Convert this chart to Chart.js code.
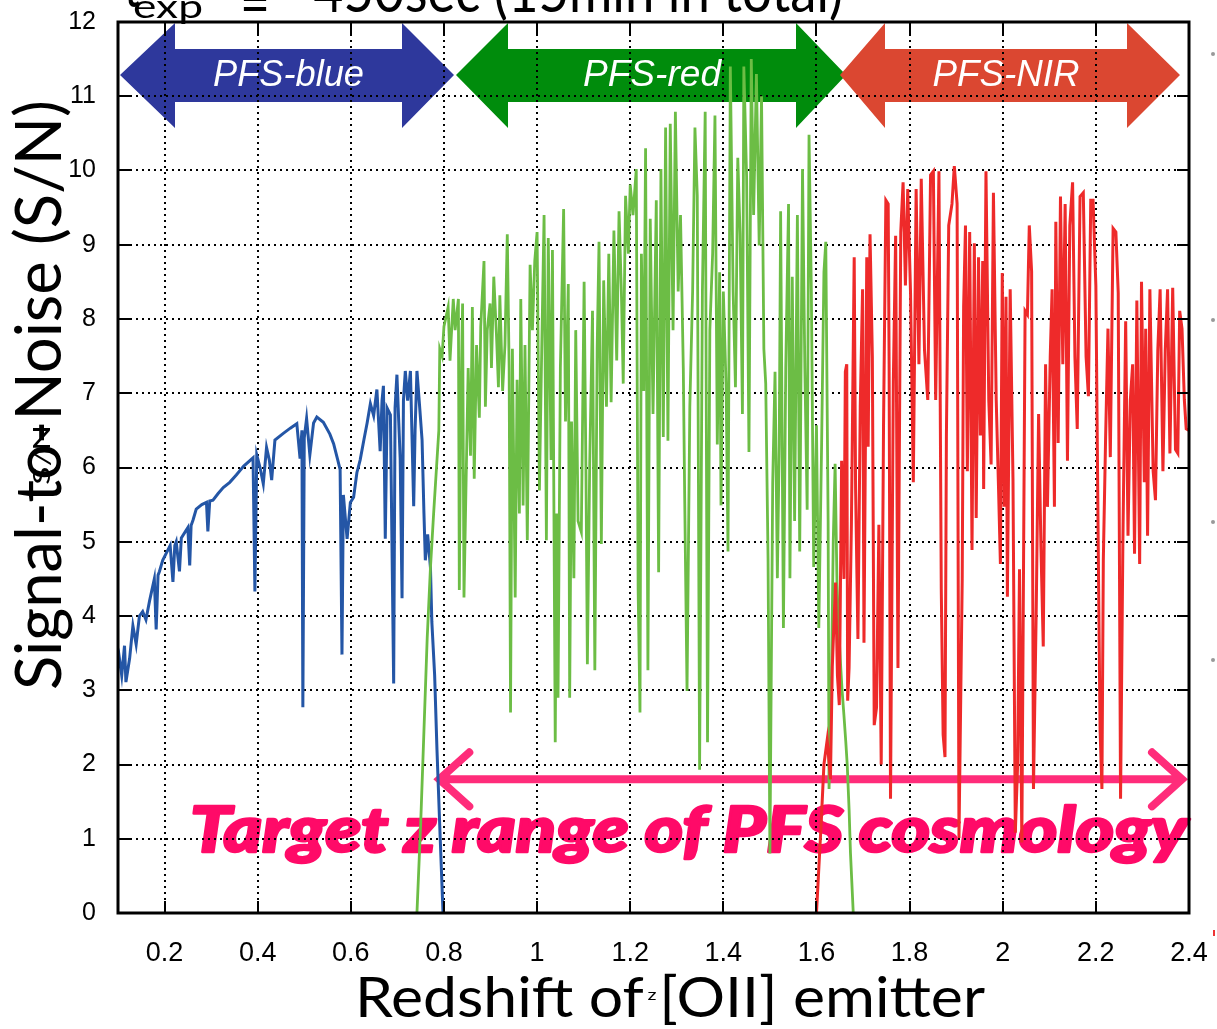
<!DOCTYPE html>
<html lang="en">
<head>
  <meta charset="UTF-8">
  <title>PFS S/N vs redshift</title>
  <style>
    body { margin: 0; background: #fff; }
    #snChart { display: block; }
  </style>
</head>
<body>
  <canvas id="snChart" width="1217" height="1029"></canvas>

  <script src="https://cdn.jsdelivr.net/npm/chart.js"></script>
  <script>
    // ---- data ----
    const xTicks = [0.2, 0.4, 0.6, 0.8, 1, 1.2, 1.4, 1.6, 1.8, 2, 2.2, 2.4];
    const yTicks = [0, 1, 2, 3, 4, 5, 6, 7, 8, 9, 10, 11, 12];

    const blueZ = [0.100, 0.103, 0.108, 0.114, 0.117, 0.125, 0.132, 0.139, 0.146, 0.153, 0.160, 0.168, 0.178, 0.182, 0.186, 0.189, 0.196, 0.204, 0.212, 0.218, 0.222, 0.225, 0.232, 0.236, 0.250, 0.254, 0.257, 0.261, 0.268, 0.280, 0.290, 0.293, 0.297, 0.304, 0.315, 0.326, 0.340, 0.354, 0.370, 0.390, 0.394, 0.398, 0.405, 0.412, 0.419, 0.425, 0.430, 0.437, 0.455, 0.470, 0.484, 0.491, 0.495, 0.497, 0.500, 0.505, 0.512, 0.520, 0.527, 0.541, 0.555, 0.563, 0.572, 0.577, 0.581, 0.584, 0.592, 0.599, 0.606, 0.613, 0.620, 0.628, 0.635, 0.642, 0.649, 0.656, 0.663, 0.667, 0.670, 0.674, 0.678, 0.685, 0.692, 0.695, 0.699, 0.703, 0.706, 0.710, 0.713, 0.717, 0.722, 0.728, 0.735, 0.738, 0.742, 0.748, 0.753, 0.757, 0.760, 0.765, 0.771, 0.774, 0.780, 0.785, 0.792, 0.798];
    const blueSN = [3.30, 3.43, 3.20, 3.60, 3.11, 3.43, 3.87, 3.62, 4.00, 4.06, 3.95, 4.21, 4.50, 3.82, 4.55, 4.60, 4.75, 4.85, 4.95, 4.46, 4.95, 5.00, 4.60, 5.05, 5.19, 4.68, 5.22, 5.29, 5.44, 5.50, 5.53, 5.14, 5.55, 5.56, 5.65, 5.73, 5.80, 5.90, 6.02, 6.13, 4.33, 6.17, 6.00, 5.78, 6.27, 6.10, 5.83, 6.37, 6.46, 6.53, 6.59, 6.12, 6.50, 2.77, 6.40, 6.66, 6.17, 6.60, 6.68, 6.61, 6.45, 6.32, 6.10, 5.97, 3.48, 5.63, 5.04, 5.53, 5.60, 5.93, 6.10, 6.37, 6.60, 6.86, 6.70, 7.05, 6.22, 6.90, 7.10, 5.04, 6.80, 6.71, 3.09, 6.80, 7.25, 6.60, 6.12, 4.24, 6.90, 7.30, 6.90, 7.30, 5.48, 6.50, 7.30, 6.80, 6.37, 5.39, 4.75, 5.10, 4.65, 3.92, 3.20, 2.20, 1.00, 0.00];

    const greenZ = [0.742, 0.750, 0.757, 0.764, 0.771, 0.778, 0.784, 0.789, 0.791, 0.796, 0.800, 0.809, 0.813, 0.820, 0.824, 0.831, 0.833, 0.836, 0.840, 0.843, 0.849, 0.852, 0.857, 0.861, 0.865, 0.870, 0.876, 0.879, 0.886, 0.889, 0.893, 0.899, 0.902, 0.907, 0.913, 0.917, 0.920, 0.926, 0.931, 0.936, 0.940, 0.943, 0.947, 0.953, 0.957, 0.962, 0.965, 0.970, 0.974, 0.979, 0.985, 0.990, 0.995, 1.000, 1.005, 1.010, 1.015, 1.020, 1.024, 1.030, 1.033, 1.039, 1.042, 1.045, 1.050, 1.057, 1.061, 1.067, 1.070, 1.074, 1.079, 1.083, 1.088, 1.095, 1.101, 1.105, 1.108, 1.113, 1.119, 1.124, 1.129, 1.133, 1.138, 1.143, 1.149, 1.154, 1.159, 1.165, 1.171, 1.176, 1.181, 1.185, 1.190, 1.196, 1.200, 1.206, 1.213, 1.217, 1.221, 1.224, 1.229, 1.233, 1.238, 1.243, 1.249, 1.256, 1.261, 1.266, 1.271, 1.276, 1.281, 1.286, 1.292, 1.297, 1.303, 1.308, 1.314, 1.317, 1.322, 1.328, 1.334, 1.339, 1.344, 1.349, 1.355, 1.361, 1.366, 1.371, 1.377, 1.382, 1.387, 1.392, 1.395, 1.400, 1.406, 1.410, 1.415, 1.421, 1.426, 1.431, 1.436, 1.441, 1.444, 1.450, 1.455, 1.460, 1.465, 1.471, 1.477, 1.482, 1.487, 1.491, 1.496, 1.500, 1.506, 1.511, 1.516, 1.520, 1.523, 1.529, 1.534, 1.540, 1.543, 1.548, 1.553, 1.559, 1.564, 1.570, 1.575, 1.580, 1.584, 1.589, 1.594, 1.600, 1.605, 1.611, 1.616, 1.620, 1.625, 1.627, 1.632, 1.636, 1.640, 1.644, 1.648, 1.652, 1.655, 1.659, 1.663, 1.666, 1.670, 1.673, 1.679];
    const greenSN = [0.00, 1.20, 2.45, 3.70, 4.65, 5.40, 6.00, 6.50, 7.60, 7.50, 7.90, 8.16, 7.44, 8.27, 7.85, 8.27, 4.35, 6.72, 8.21, 4.25, 6.31, 7.34, 6.16, 8.16, 5.85, 7.65, 6.67, 7.90, 8.78, 6.82, 7.85, 8.21, 7.34, 8.57, 7.75, 7.08, 8.32, 7.03, 7.65, 9.14, 7.34, 2.70, 7.60, 4.25, 7.18, 5.38, 8.27, 5.49, 7.65, 5.02, 8.73, 7.85, 8.78, 9.17, 5.69, 7.60, 9.40, 5.02, 9.09, 6.10, 8.93, 2.30, 5.38, 2.90, 7.34, 9.48, 6.62, 8.47, 2.90, 6.62, 4.51, 7.85, 5.28, 5.13, 8.50, 5.90, 3.35, 6.05, 8.11, 3.27, 7.60, 9.04, 4.97, 8.52, 6.82, 8.88, 6.88, 9.19, 7.44, 9.45, 8.37, 7.13, 9.66, 8.88, 9.81, 9.40, 10.02, 4.35, 2.70, 8.88, 7.03, 10.30, 3.27, 9.35, 6.72, 9.60, 4.59, 10.02, 6.41, 10.58, 6.36, 10.63, 7.85, 10.79, 8.37, 9.40, 7.34, 5.59, 2.99, 6.82, 8.37, 10.58, 9.66, 1.93, 8.37, 10.79, 2.30, 7.85, 8.88, 10.74, 6.31, 8.63, 5.49, 8.37, 7.08, 4.87, 11.40, 8.37, 7.08, 10.17, 9.14, 6.72, 11.40, 9.91, 6.21, 11.50, 9.40, 11.30, 8.99, 11.00, 7.60, 7.13, 4.77, 0.80, 5.80, 7.29, 4.51, 6.31, 9.45, 3.84, 7.34, 9.55, 4.51, 8.57, 5.28, 9.40, 4.87, 10.02, 7.34, 5.43, 10.48, 8.37, 4.66, 6.57, 3.84, 6.31, 8.63, 9.04, 5.28, 1.67, 3.07, 5.00, 6.05, 4.45, 3.80, 3.32, 3.00, 2.66, 2.30, 2.00, 1.40, 0.81, 0.00];

    const redZ = [1.600, 1.610, 1.616, 1.623, 1.630, 1.634, 1.641, 1.645, 1.649, 1.654, 1.659, 1.662, 1.665, 1.667, 1.670, 1.675, 1.681, 1.684, 1.689, 1.694, 1.699, 1.702, 1.708, 1.711, 1.715, 1.720, 1.724, 1.729, 1.734, 1.739, 1.744, 1.749, 1.754, 1.756, 1.759, 1.765, 1.770, 1.775, 1.781, 1.786, 1.791, 1.796, 1.802, 1.808, 1.814, 1.820, 1.825, 1.832, 1.839, 1.845, 1.851, 1.856, 1.863, 1.868, 1.872, 1.876, 1.879, 1.884, 1.891, 1.896, 1.902, 1.906, 1.913, 1.916, 1.920, 1.924, 1.929, 1.934, 1.939, 1.943, 1.948, 1.952, 1.957, 1.959, 1.964, 1.970, 1.975, 1.980, 1.986, 1.991, 1.995, 1.999, 2.003, 2.007, 2.010, 2.016, 2.022, 2.027, 2.032, 2.036, 2.041, 2.048, 2.053, 2.057, 2.062, 2.066, 2.072, 2.077, 2.082, 2.087, 2.092, 2.096, 2.102, 2.106, 2.111, 2.114, 2.119, 2.124, 2.129, 2.134, 2.139, 2.144, 2.150, 2.155, 2.160, 2.166, 2.173, 2.179, 2.184, 2.189, 2.194, 2.200, 2.205, 2.209, 2.213, 2.216, 2.221, 2.226, 2.231, 2.237, 2.243, 2.248, 2.253, 2.258, 2.264, 2.269, 2.274, 2.279, 2.283, 2.288, 2.294, 2.298, 2.304, 2.307, 2.311, 2.316, 2.323, 2.328, 2.333, 2.338, 2.344, 2.349, 2.354, 2.359, 2.365, 2.371, 2.376, 2.380, 2.385, 2.390, 2.394, 2.400];
    const redSN = [0.00, 1.20, 2.00, 2.33, 1.80, 3.32, 4.45, 3.20, 2.80, 6.09, 4.50, 7.29, 7.39, 2.86, 3.30, 5.23, 8.83, 5.71, 3.69, 6.81, 8.40, 3.64, 8.83, 6.28, 9.14, 7.49, 2.53, 2.77, 5.23, 2.00, 6.57, 9.60, 9.55, 7.39, 1.54, 7.15, 9.12, 3.30, 9.17, 9.84, 8.45, 9.75, 8.35, 5.80, 9.75, 7.39, 9.89, 7.58, 6.91, 9.94, 9.99, 6.91, 9.99, 4.36, 2.40, 2.10, 6.43, 9.26, 9.55, 10.06, 9.55, 1.01, 4.50, 8.16, 9.26, 5.95, 9.17, 4.89, 9.02, 5.32, 8.83, 6.43, 8.78, 5.71, 9.99, 6.91, 6.04, 9.70, 6.91, 5.71, 4.70, 8.62, 5.47, 8.30, 4.26, 8.40, 5.85, 1.08, 2.00, 4.63, 0.95, 8.11, 8.06, 9.26, 8.64, 1.67, 4.12, 6.72, 4.94, 3.59, 7.39, 5.47, 7.49, 8.40, 5.47, 9.31, 6.33, 9.65, 7.39, 9.55, 6.09, 9.26, 9.84, 7.49, 6.52, 9.65, 9.70, 7.49, 6.96, 9.60, 9.60, 8.45, 4.99, 2.47, 1.67, 4.75, 6.43, 7.87, 6.14, 9.22, 9.17, 8.35, 1.54, 4.99, 7.97, 5.08, 6.91, 7.39, 4.84, 8.25, 4.70, 8.50, 5.80, 7.87, 5.08, 8.40, 5.95, 5.56, 7.58, 8.40, 5.95, 7.58, 8.40, 6.19, 8.42, 6.24, 6.19, 8.11, 7.87, 6.91, 6.52, 6.50];

    // ---- small drawing helpers ----
    function fitText(ctx, text, x, y, width, font, align, stroke) {
      ctx.save();
      ctx.font = font;
      const w = ctx.measureText(text).width;
      ctx.translate(x, y);
      ctx.scale(width / w, 1);
      ctx.textAlign = align || 'center';
      ctx.fillText(text, 0, 0);
      if (stroke) {
        ctx.lineWidth = stroke;
        ctx.lineJoin = 'round';
        ctx.strokeStyle = ctx.fillStyle;
        ctx.strokeText(text, 0, 0);
      }
      ctx.restore();
    }

    function bandArrow(ctx, x0, x1, x2, x3, color, label, labelW) {
      const top = 23, sTop = 49, sBot = 102, bot = 128, mid = 75;
      ctx.save();
      ctx.fillStyle = color;
      ctx.beginPath();
      ctx.moveTo(x0, mid);
      ctx.lineTo(x1, top); ctx.lineTo(x1, sTop); ctx.lineTo(x2, sTop); ctx.lineTo(x2, top);
      ctx.lineTo(x3, mid);
      ctx.lineTo(x2, bot); ctx.lineTo(x2, sBot); ctx.lineTo(x1, sBot); ctx.lineTo(x1, bot);
      ctx.closePath();
      ctx.fill();
      ctx.fillStyle = '#fff';
      fitText(ctx, label, (x1 + x2) / 2, 86, labelW, 'italic 37px "Liberation Sans", Arial');
      ctx.restore();
    }

    // background: range arrows, cosmology text, dotted grid, pink arrow
    const underlay = {
      id: 'underlay',
      beforeDatasetsDraw(chart) {
        const { ctx, chartArea: a } = chart;
        const xs = chart.scales.x, ys = chart.scales.y;

        bandArrow(ctx, 120, 175, 402, 454, '#2e389c', 'PFS-blue', 151);
        bandArrow(ctx, 456, 508, 796, 846, '#008c0c', 'PFS-red', 138);
        bandArrow(ctx, 840, 885, 1127, 1180, '#db4731', 'PFS-NIR', 147);

        ctx.save();
        ctx.fillStyle = '#ff0a68';
        fitText(ctx, 'Target z range of PFS cosmology', 190, 852, 998, 'italic 900 62px "Lato Black", Lato, "Open Sans", sans-serif', 'left', 2.5);
        ctx.restore();

        // dotted grid
        ctx.save();
        ctx.strokeStyle = '#000';
        ctx.lineWidth = 2;
        ctx.setLineDash([2, 4]);
        yTicks.forEach(v => {
          if (v === 0 || v === 12) return;
          const y = Math.round(ys.getPixelForValue(v));
          ctx.beginPath(); ctx.moveTo(a.left, y); ctx.lineTo(a.right, y); ctx.stroke();
        });
        xTicks.forEach(v => {
          if (v >= 2.4) return;
          const x = Math.round(xs.getPixelForValue(v));
          ctx.beginPath(); ctx.moveTo(x, a.top); ctx.lineTo(x, a.bottom); ctx.stroke();
        });
        ctx.restore();

        // target range arrow
        const yA = ys.getPixelForValue(1.8);
        const xa = xs.getPixelForValue(0.79), xb = xs.getPixelForValue(2.385);
        ctx.save();
        ctx.strokeStyle = '#ff2c7a';
        ctx.lineWidth = 8;
        ctx.lineCap = 'round';
        ctx.beginPath();
        ctx.moveTo(xa + 4, yA); ctx.lineTo(xb - 4, yA);
        ctx.moveTo(xa + 30, yA - 27); ctx.lineTo(xa, yA); ctx.lineTo(xa + 30, yA + 27);
        ctx.moveTo(xb - 30, yA - 27); ctx.lineTo(xb, yA); ctx.lineTo(xb - 30, yA + 27);
        ctx.stroke();
        ctx.restore();
      }
    };

    // frame, tick marks, titles
    const overlay = {
      id: 'overlay',
      afterDraw(chart) {
        const { ctx, chartArea: a } = chart;
        const xs = chart.scales.x, ys = chart.scales.y;
        ctx.save();
        ctx.strokeStyle = '#000';
        ctx.lineWidth = 3;
        ctx.strokeRect(a.left, a.top, a.right - a.left, a.bottom - a.top);
        ctx.lineWidth = 2;
        ctx.beginPath();
        yTicks.forEach(v => {
          const y = Math.round(ys.getPixelForValue(v));
          ctx.moveTo(a.left, y); ctx.lineTo(a.left + 12, y);
          ctx.moveTo(a.right, y); ctx.lineTo(a.right - 12, y);
        });
        xTicks.forEach(v => {
          const x = Math.round(xs.getPixelForValue(v));
          ctx.moveTo(x, a.bottom); ctx.lineTo(x, a.bottom - 12);
          ctx.moveTo(x, a.top); ctx.lineTo(x, a.top + 12);
        });
        ctx.stroke();

        ctx.fillStyle = '#000';
        // axis titles
        ctx.save();
        ctx.translate(61, 395);
        ctx.rotate(-Math.PI / 2);
        fitText(ctx, 'Signal-to-Noise (S/N)', 0, 0, 590, '64px Lato, "Open Sans", sans-serif');
        ctx.restore();
        fitText(ctx, 'Redshift of [OII] emitter', 670, 1017, 630, '56px Lato, "Open Sans", sans-serif');

        // ghost labels left over in the figure
        ctx.save();
        ctx.translate(50, 455);
        ctx.rotate(-Math.PI / 2);
        fitText(ctx, 'S/N', 0, 0, 60, '24px Lato, sans-serif');
        ctx.restore();
        fitText(ctx, 'z', 652, 1000, 9, '16px Lato, sans-serif');

        // cropped exposure-time line at the top
        fitText(ctx, 't', 132, 7, 16, '60px Lato, sans-serif');
        fitText(ctx, 'exp', 133, 18, 70, '32px Lato, sans-serif', 'left');
        fitText(ctx, '=', 240, 24, 30, '60px Lato, sans-serif', 'left');
        fitText(ctx, '450sec (15min in total)', 313, 12, 530, '60px Lato, sans-serif', 'left');

        // bullet remnants at the right edge
        ctx.fillStyle = '#999';
        [54, 320, 522, 660].forEach(y => {
          ctx.beginPath(); ctx.arc(1213, y, 2, 0, Math.PI * 2); ctx.fill();
        });
        ctx.fillStyle = '#e33';
        ctx.fillRect(1213, 930, 2, 6);
        ctx.restore();
      }
    };

    const toXY = (zs, sn) => zs.map((z, i) => ({ x: z, y: sn[i] }));

    new Chart(document.getElementById('snChart'), {
      type: 'line',
      data: {
        datasets: [
          { data: toXY(redZ, redSN), borderColor: '#ee2a2a', borderWidth: 3 },
          { data: toXY(greenZ, greenSN), borderColor: '#6cbd45', borderWidth: 2.8 },
          { data: toXY(blueZ, blueSN), borderColor: '#2456a6', borderWidth: 3 }
        ]
      },
      options: {
        responsive: false,
        animation: false,
        layout: { padding: { top: 22, right: 28, left: 0, bottom: 0 } },
        elements: { point: { radius: 0 }, line: { tension: 0, fill: false } },
        plugins: { legend: { display: false }, tooltip: { enabled: false } },
        scales: {
          x: {
            type: 'linear',
            min: 0.1,
            max: 2.4,
            afterBuildTicks(s) { s.ticks = xTicks.map(v => ({ value: v })); },
            afterFit(s) { s.height = 116; s.paddingLeft = 0; s.paddingRight = 0; },
            grid: { display: false },
            border: { display: false },
            ticks: {
              color: '#000',
              padding: 16,
              maxRotation: 0,
              font: { family: '"Liberation Sans Narrow", "Liberation Sans", Arial', size: 27 },
              callback: v => String(Math.round(v * 10) / 10)
            }
          },
          y: {
            min: 0,
            max: 12,
            afterBuildTicks(s) { s.ticks = yTicks.map(v => ({ value: v })); },
            afterFit(s) { s.width = 118; s.paddingTop = 0; s.paddingBottom = 0; },
            grid: { display: false },
            border: { display: false },
            ticks: {
              color: '#000',
              padding: 14,
              font: { family: '"Liberation Sans", Arial', size: 25 }
            }
          }
        }
      },
      plugins: [underlay, overlay]
    });
  </script>
</body>
</html>
